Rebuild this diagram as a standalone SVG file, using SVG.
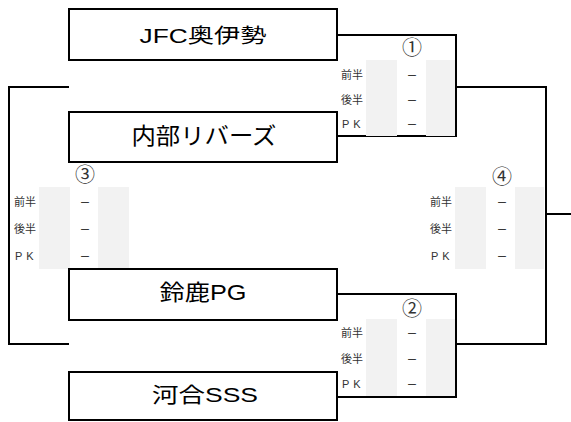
<svg xmlns="http://www.w3.org/2000/svg" width="571" height="422" viewBox="0 0 571 422">
<style>
.box{fill:#fff;stroke:#000;stroke-width:2}
.ln{fill:none;stroke:#000;stroke-width:2}
.cell{fill:#f2f2f2}
.team{font-family:"Liberation Sans","Noto Sans CJK JP",sans-serif;fill:#000;text-anchor:middle;dominant-baseline:central}
.lab{font-family:"Liberation Sans","Noto Sans CJK JP",sans-serif;font-size:11px;fill:#333;text-anchor:end;dominant-baseline:central}
.pk{font-family:"Liberation Sans",sans-serif;font-size:11px;fill:#333;letter-spacing:4px;dominant-baseline:central}
.dash{font-family:"Noto Sans CJK JP",sans-serif;font-size:11px;fill:#000;text-anchor:middle;dominant-baseline:central}
.num{font-family:"Noto Sans CJK JP",sans-serif;font-size:20px;fill:#333;text-anchor:middle;dominant-baseline:central}
</style>
<rect width="571" height="422" fill="#fff"/>
<g id="connectors">
<polyline class="ln" points="337,35 456,35 456,136 337,136"/>
<polyline class="ln" points="337,294 456,294 456,397 337,397"/>
<polyline class="ln" points="456,87 546,87 546,344 456,344"/>
<line class="ln" x1="546" y1="214" x2="571" y2="214"/>
<polyline class="ln" points="69,87 9,87 9,344 69,344"/>
</g>
<g id="match1">
<rect class="cell" x="366" y="60" width="31" height="76"/>
<rect class="cell" x="426" y="60" width="29" height="76"/>
<text class="num" x="412" y="46">①</text>
<text class="lab" x="363" y="75">前半</text>
<text class="lab" x="363" y="100">後半</text>
<text class="pk" x="342" y="124">PK</text>
<text class="dash" x="412" y="75">－</text>
<text class="dash" x="412" y="100">－</text>
<text class="dash" x="412" y="124">－</text>
</g>
<g id="match2">
<rect class="cell" x="366" y="319" width="31" height="77"/>
<rect class="cell" x="426" y="319" width="29" height="77"/>
<text class="num" x="412" y="307">②</text>
<text class="lab" x="363" y="333">前半</text>
<text class="lab" x="363" y="359">後半</text>
<text class="pk" x="342" y="384">PK</text>
<text class="dash" x="412" y="333">－</text>
<text class="dash" x="412" y="359">－</text>
<text class="dash" x="412" y="384">－</text>
</g>
<g id="match3">
<rect class="cell" x="39" y="187" width="31" height="82"/>
<rect class="cell" x="98" y="187" width="31" height="82"/>
<text class="num" x="85" y="173">③</text>
<text class="lab" x="36" y="202">前半</text>
<text class="lab" x="36" y="229">後半</text>
<text class="pk" x="15" y="256">PK</text>
<text class="dash" x="85" y="202">－</text>
<text class="dash" x="85" y="229">－</text>
<text class="dash" x="85" y="256">－</text>
</g>
<g id="match4">
<rect class="cell" x="455" y="187" width="31" height="82"/>
<rect class="cell" x="515" y="187" width="29" height="82"/>
<text class="num" x="502" y="175">④</text>
<text class="lab" x="452" y="202">前半</text>
<text class="lab" x="452" y="229">後半</text>
<text class="pk" x="431" y="256">PK</text>
<text class="dash" x="502" y="202">－</text>
<text class="dash" x="502" y="229">－</text>
<text class="dash" x="502" y="256">－</text>
</g>
<g id="team1">
<rect class="box" x="69" y="9" width="268" height="51"/>
<text class="team" x="203" y="36" font-size="20" textLength="127" lengthAdjust="spacingAndGlyphs">JFC奥伊勢</text>
</g>
<g id="team2">
<rect class="box" x="69" y="112" width="268" height="50"/>
<text class="team" x="204" y="136" font-size="23" textLength="145" lengthAdjust="spacingAndGlyphs">内部リバーズ</text>
</g>
<g id="team3">
<rect class="box" x="69" y="269" width="268" height="51"/>
<text class="team" x="203" y="292" font-size="22" textLength="87" lengthAdjust="spacingAndGlyphs">鈴鹿PG</text>
</g>
<g id="team4">
<rect class="box" x="69" y="372" width="268" height="48"/>
<text class="team" x="205" y="394" font-size="21" textLength="106" lengthAdjust="spacingAndGlyphs">河合SSS</text>
</g>
</svg>
